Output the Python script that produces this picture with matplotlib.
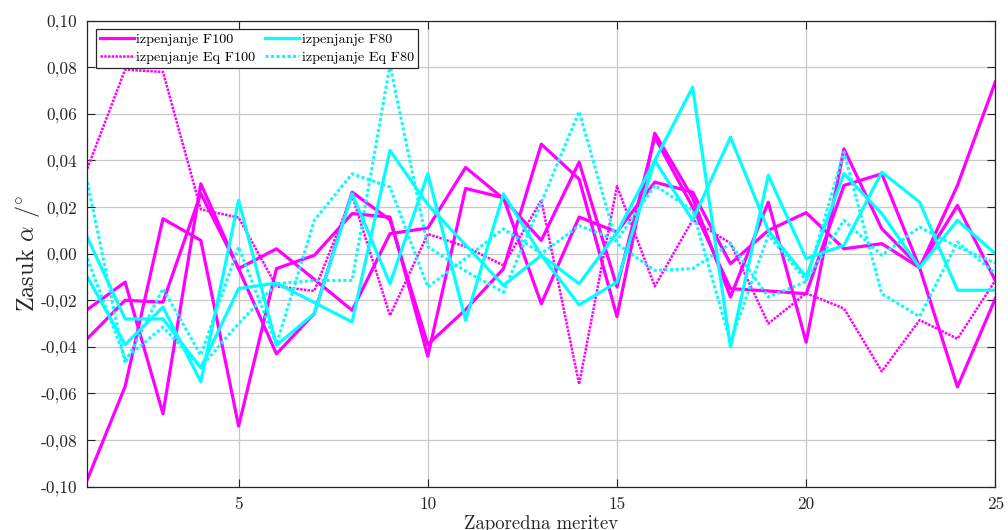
import matplotlib
matplotlib.use("Agg")
import matplotlib.pyplot as plt
from matplotlib.ticker import FuncFormatter, FixedLocator
import numpy as np

plt.rcParams['font.family'] = 'serif'
plt.rcParams['font.serif'] = ['cmr10', 'DejaVu Serif']
plt.rcParams['mathtext.fontset'] = 'cm'
plt.rcParams['axes.formatter.use_mathtext'] = False

x = list(range(1, 26))

f100_a = [-0.024, -0.0122, -0.0687, 0.030, -0.0065, -0.043, -0.0257, 0.0264, 0.0145, -0.039,
          -0.024, -0.0065, 0.047, 0.032, -0.027, 0.0517, 0.024, -0.0186, 0.0221, -0.038,
          0.045, 0.0107, -0.0057, 0.0207, -0.0115]
f100_b = [-0.0365, -0.020, -0.0208, 0.0258, -0.0064, 0.0021, -0.011, -0.0243, 0.0086, 0.011,
          0.037, 0.0236, 0.0057, 0.0393, -0.0143, 0.050, 0.020, -0.015, -0.016, -0.0172,
          0.0293, 0.0343, -0.006, -0.0572, -0.0193]
f100_c = [-0.097, -0.057, 0.015, 0.0057, -0.074, -0.0064, -0.0007, 0.0172, 0.0157, -0.044,
          0.028, 0.024, -0.0215, 0.0157, 0.0093, 0.0307, 0.0264, -0.0043, 0.010, 0.0176,
          0.0021, 0.0043, -0.006, 0.0293, 0.0737]
eq_f100 = [0.0365, 0.079, 0.078, 0.019, 0.0155, -0.014, -0.016, 0.025, -0.0265, 0.0085,
           0.003, -0.005, 0.023, -0.056, 0.029, -0.014, 0.0145, 0.0045, -0.030, -0.017,
           -0.0235, -0.0505, -0.0285, -0.0365, -0.0115]

f80_a = [0.007, -0.028, -0.028, -0.049, -0.015, -0.0126, -0.021, -0.0293, 0.0443, 0.021,
         0.0037, -0.0136, -0.0007, -0.022, -0.0122, 0.040, 0.0143, 0.050, 0.010, -0.010,
         0.0343, 0.0172, -0.006, 0.0143, 0.0]
f80_b = [-0.010, -0.039, -0.0229, -0.055, 0.0229, -0.0393, -0.0257, 0.0257, -0.0129, 0.0343,
         -0.0286, 0.0257, -0.0007, -0.0129, 0.009, 0.040, 0.0715, -0.040, 0.0336, -0.0021,
         0.0036, 0.035, 0.0221, -0.0157, -0.0157]
eq_f80_a = [0.0307, -0.047, -0.015, -0.0436, 0.0029, -0.039, 0.0143, 0.0343, 0.0286, -0.0143,
            -0.002, 0.0107, 0.0, 0.012, 0.0057, 0.0293, 0.0186, -0.038, 0.008, -0.0115,
            0.0143, -0.0007, 0.0114, 0.0029, -0.004]
eq_f80_b = [-0.0021, -0.045, -0.0315, -0.0486, -0.030, -0.0129, -0.0115, -0.0115, 0.081, 0.003,
            -0.0075, -0.0165, 0.022, 0.061, 0.0043, -0.0072, -0.0064, 0.0043, -0.0186, -0.012,
            0.0436, -0.0172, -0.027, 0.005, -0.0085]

x_ticks = [5, 10, 15, 20, 25]
y_ticks = [-0.10, -0.08, -0.06, -0.04, -0.02, 0.0, 0.02, 0.04, 0.06, 0.08, 0.10]

MAG = '#ff00ff'
CYA = '#00ffff'

fig = plt.figure(figsize=(10.08, 5.30), dpi=100)
ax = fig.add_axes([0.0866, 0.0817, 0.9008, 0.8793])

lw = 2.3
ax.plot(x, f100_a, color=MAG, lw=lw, label='izpenjanje F100')
ax.plot(x, f100_b, color=MAG, lw=lw)
ax.plot(x, f100_c, color=MAG, lw=lw)
ax.plot(x, eq_f100, color=MAG, lw=1.8, ls=(0, (1, 0.5)), label='izpenjanje Eq F100')
ax.plot(x, f80_a, color=CYA, lw=lw, label='izpenjanje F80')
ax.plot(x, f80_b, color=CYA, lw=lw)
ax.plot(x, eq_f80_a, color=CYA, lw=2.2, ls=(0, (1, 0.8)), label='izpenjanje Eq F80')
ax.plot(x, eq_f80_b, color=CYA, lw=2.2, ls=(0, (1, 0.8)))

ax.set_xlim(1, 25)
ax.set_ylim(-0.10, 0.10)
ax.xaxis.set_major_locator(FixedLocator(x_ticks))
ax.yaxis.set_major_locator(FixedLocator(y_ticks))
ax.yaxis.set_major_formatter(FuncFormatter(lambda v, p: ('%.2f' % v).replace('.', ',').replace('-0,00', '0,00')))
ax.xaxis.set_major_formatter(FuncFormatter(lambda v, p: '%d' % v))
ax.grid(True, color='#c8c8c8', lw=0.9)
ax.set_axisbelow(True)
for s in ax.spines.values():
    s.set_color('#262626')
    s.set_linewidth(0.9)
ax.tick_params(direction='in', length=6, width=0.8, color='#262626', top=True, right=True,
               labelsize=12.5, labelcolor='#262626', pad=7)

ax.set_xlabel('Zaporedna meritev', fontsize=13.5, color='#262626', labelpad=2)
ax.set_ylabel(r'Zasuk $\alpha$ /$^{\circ}$', fontsize=17.5, color='#262626', labelpad=-1)

leg = ax.legend(ncol=2, loc='upper left', fontsize=10.2, frameon=True, fancybox=False,
                edgecolor='#262626', framealpha=1, handlelength=2.4, columnspacing=0.7,
                handletextpad=0.15, borderpad=0.3, labelspacing=0.3, borderaxespad=0,
                bbox_to_anchor=(0.0096, 0.9815))
leg.get_frame().set_linewidth(0.9)

fig.savefig('out.png', dpi=100)
